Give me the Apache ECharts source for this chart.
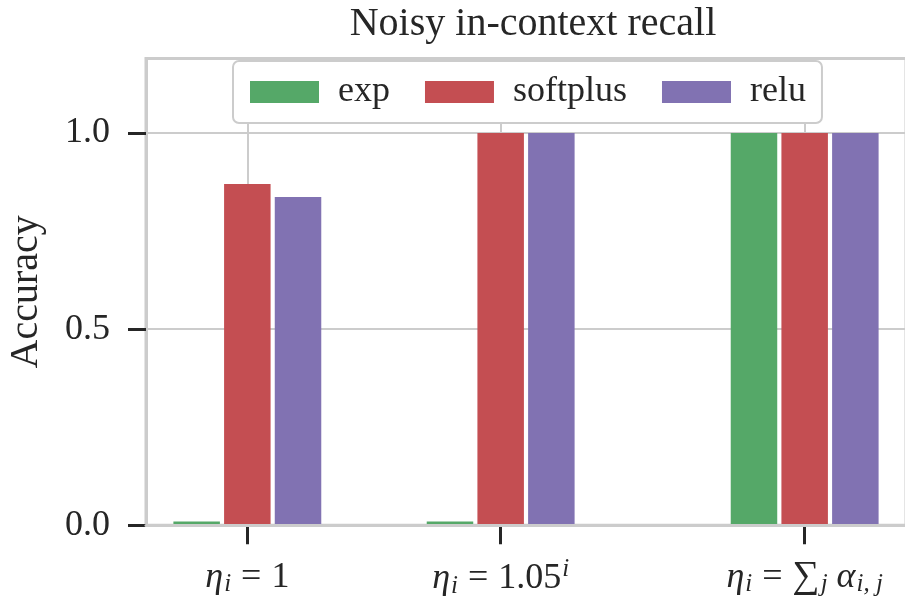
<!DOCTYPE html>
<html>
<head>
<meta charset="utf-8">
<script src="https://cdn.jsdelivr.net/npm/echarts@6/dist/echarts.min.js"></script>
<style>html,body{margin:0;padding:0;background:#fff}#c{width:905px;height:603px}</style>
</head>
<body>
<div id="c"></div>
<script>
// ---- data ----
const titleText = 'Noisy in-context recall';
const yAxisName = 'Accuracy';
const seriesNames = ['exp', 'softplus', 'relu'];
const tickLabels = [
  '{m|η}{s|i}{e|=}{n|1}',
  '{m|η}{s|i}{e|=}{n|1.05}{p|i}',
  '{m|η}{s|i}{e|=}{g|∑}{s|j}{m| α}{s|i, j}'
];
const expVals = [0.01, 0.01, 1.0];
const softplusVals = [0.87, 1.0, 1.0];
const reluVals = [0.837, 1.0, 1.0];
const yTicks = [0, 0.5, 1.0];

// ---- layout (uneven category placement on a slot grid) ----
const slotOf = [2, 7, 13];
const slotCount = 16;
const colors = ['#55a868', '#c44e52', '#8172b2'];
const FONT = 'Liberation Serif';
const TXT = '#262626';

const axisData = [];
for (let i = 0; i < slotCount; i++) axisData.push('_' + i);
slotOf.forEach((s, k) => { axisData[s] = tickLabels[k]; });
const isSlot = (idx) => slotOf.indexOf(idx) >= 0;
function toSlots(vals) {
  const arr = new Array(slotCount).fill('-');
  slotOf.forEach((s, k) => { arr[s] = vals[k]; });
  return arr;
}
const allVals = [expVals, softplusVals, reluVals];

const chart = echarts.init(document.getElementById('c'), null, {renderer: 'canvas'});
chart.setOption({
  animation: false,
  backgroundColor: '#ffffff',
  title: {
    text: titleText, left: 528, top: -1, textAlign: 'center',
    textStyle: {fontFamily: FONT, fontSize: 40, fontWeight: 'normal', color: TXT}
  },
  legend: {
    data: seriesNames, left: 233, top: 61, icon: 'rect',
    itemWidth: 69, itemHeight: 22, itemGap: 35,
    padding: [13, 16, 13, 17],
    backgroundColor: '#ffffff', borderColor: '#cccccc', borderWidth: 2, borderRadius: 6,
    textStyle: {fontFamily: FONT, fontSize: 36, color: TXT, padding: [0, 0, 0, 14]}
  },
  grid: {
    left: 146, top: 58.5, right: -1, bottom: 77.7,
    show: true, borderColor: '#cccccc', borderWidth: 3, backgroundColor: 'transparent',
    outerBoundsMode: 'none'
  },
  xAxis: [{
    type: 'category', data: axisData, boundaryGap: false,
    axisLine: {show: false},
    axisTick: {show: true, interval: (i) => isSlot(i), length: 19, lineStyle: {color: TXT, width: 3}},
    splitLine: {show: true, interval: (i) => isSlot(i), lineStyle: {color: '#cccccc', width: 2}},
    axisLabel: {
      interval: (i) => isSlot(i), margin: 32, color: TXT,
      formatter: (v) => (v.charAt(0) === '_' ? '' : v),
      rich: {
        m: {fontFamily: FONT, fontStyle: 'italic', fontSize: 36, color: TXT},
        n: {fontFamily: FONT, fontSize: 36, color: TXT},
        e: {fontFamily: FONT, fontSize: 36, color: TXT, padding: [0, 10, 0, 10]},
        g: {fontFamily: FONT, fontSize: 38, color: TXT},
        s: {fontFamily: FONT, fontStyle: 'italic', fontSize: 25, color: TXT, padding: [15, 0, 0, 1]},
        p: {fontFamily: FONT, fontStyle: 'italic', fontSize: 25, color: TXT, padding: [0, 0, 18, 1]}
      }
    }
  }, {
    type: 'category', data: axisData, boundaryGap: false, position: 'bottom', z: 10,
    axisLine: {show: true, lineStyle: {color: '#cccccc', width: 3}},
    axisTick: {show: false}, axisLabel: {show: false}, splitLine: {show: false}
  }],
  yAxis: {
    type: 'value', min: 0, max: 1.19, interval: 0.5,
    name: yAxisName, nameLocation: 'middle', nameGap: 100, nameRotate: 90,
    nameTextStyle: {fontFamily: FONT, fontSize: 40, color: TXT},
    axisLine: {show: true, lineStyle: {color: '#cccccc', width: 3}},
    axisTick: {show: true, customValues: yTicks, length: 18, lineStyle: {color: TXT, width: 3}},
    axisLabel: {customValues: yTicks, margin: 36, fontFamily: FONT, fontSize: 36, color: TXT,
      formatter: (v) => v.toFixed(1)},
    splitLine: {show: true, lineStyle: {color: '#cccccc', width: 2}}
  },
  series: seriesNames.map((name, k) => ({
    name: name, type: 'bar', xAxisIndex: 0,
    data: toSlots(allVals[k]),
    barWidth: 46.5, barGap: '9%',
    itemStyle: {color: colors[k]}
  }))
});
</script>
</body>
</html>
